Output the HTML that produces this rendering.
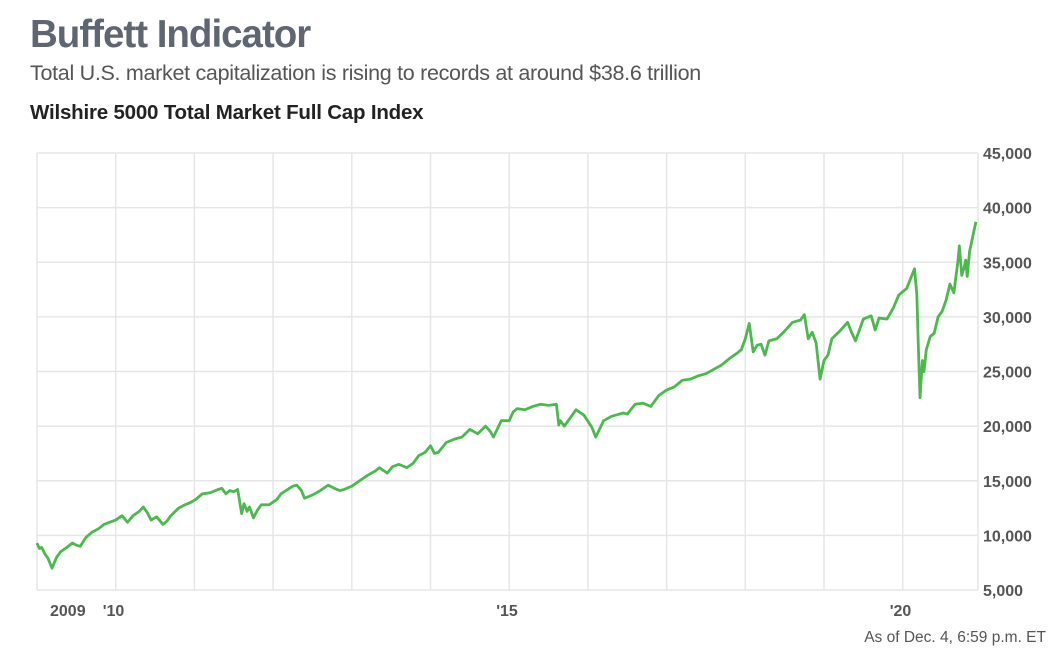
<!DOCTYPE html>
<html><head><meta charset="utf-8"><style>
body{margin:0;background:#fff;width:1055px;height:653px;overflow:hidden;font-family:"Liberation Sans",sans-serif}
.t{position:absolute;left:30px;top:13px;font-size:38.5px;font-weight:bold;color:#5f6672;letter-spacing:-1px}
.s{position:absolute;left:30px;top:61px;font-size:21.5px;color:#555;letter-spacing:-0.3px}
.h{position:absolute;left:30px;top:101px;font-size:20.5px;font-weight:bold;color:#222;letter-spacing:-0.2px}
svg{position:absolute;left:0;top:0}
</style></head><body>
<div class="t">Buffett Indicator</div>
<div class="s">Total U.S. market capitalization is rising to records at around $38.6 trillion</div>
<div class="h">Wilshire 5000 Total Market Full Cap Index</div>
<svg id="c" width="1055" height="653"></svg>
<script>
const dates=[2009.0,2009.03,2009.06,2009.1,2009.14,2009.19,2009.25,2009.3,2009.38,2009.45,2009.5,2009.55,2009.62,2009.7,2009.78,2009.85,2009.92,2010.0,2010.08,2010.15,2010.22,2010.3,2010.35,2010.4,2010.45,2010.52,2010.6,2010.65,2010.7,2010.8,2010.88,2010.95,2011.02,2011.1,2011.2,2011.3,2011.35,2011.4,2011.45,2011.5,2011.55,2011.6,2011.63,2011.67,2011.7,2011.75,2011.8,2011.85,2011.95,2012.05,2012.1,2012.25,2012.3,2012.36,2012.4,2012.5,2012.6,2012.7,2012.78,2012.85,2012.9,2013.0,2013.1,2013.2,2013.3,2013.35,2013.45,2013.52,2013.6,2013.7,2013.78,2013.85,2013.93,2014.0,2014.05,2014.1,2014.2,2014.3,2014.4,2014.5,2014.55,2014.6,2014.7,2014.76,2014.8,2014.9,2015.0,2015.05,2015.1,2015.2,2015.3,2015.4,2015.5,2015.6,2015.63,2015.65,2015.7,2015.75,2015.85,2015.95,2016.05,2016.1,2016.2,2016.3,2016.35,2016.45,2016.5,2016.6,2016.7,2016.8,2016.9,2017.0,2017.1,2017.2,2017.3,2017.4,2017.5,2017.6,2017.7,2017.8,2017.9,2017.95,2018.0,2018.05,2018.1,2018.15,2018.2,2018.25,2018.3,2018.4,2018.5,2018.6,2018.7,2018.75,2018.8,2018.85,2018.9,2018.95,2019.0,2019.05,2019.1,2019.2,2019.3,2019.35,2019.4,2019.5,2019.6,2019.65,2019.7,2019.8,2019.88,2019.95,2020.05,2020.1,2020.15,2020.18,2020.2,2020.22,2020.25,2020.27,2020.3,2020.35,2020.4,2020.45,2020.5,2020.55,2020.6,2020.65,2020.7,2020.72,2020.75,2020.78,2020.8,2020.82,2020.85,2020.88,2020.93];
const values=[9300,8800,8900,8300,7900,7000,8000,8500,8900,9300,9100,9000,9800,10300,10600,11000,11200,11400,11800,11200,11800,12200,12600,12100,11400,11700,11000,11300,11800,12500,12800,13000,13300,13800,13900,14200,14300,13800,14100,14000,14200,12000,12900,12200,12600,11600,12300,12800,12800,13300,13800,14500,14600,14100,13400,13700,14100,14600,14300,14100,14200,14500,15000,15500,15900,16200,15700,16300,16500,16200,16600,17300,17600,18200,17500,17600,18500,18800,19000,19700,19500,19300,20000,19500,19000,20500,20500,21300,21600,21500,21800,22000,21900,22000,20100,20500,20000,20500,21500,21000,19900,19000,20500,20900,21000,21200,21100,22000,22100,21800,22800,23300,23600,24200,24300,24600,24800,25200,25600,26200,26700,27000,28000,29400,26800,27400,27500,26500,27800,28000,28700,29500,29700,30200,28000,28600,27600,24300,26000,26500,28000,28700,29500,28600,27800,29800,30100,28800,29900,29800,30800,32000,32600,33500,34400,32000,27000,22600,26000,25000,27000,28200,28500,30000,30500,31500,33000,32200,35000,36500,33800,34500,35200,33700,36000,37000,38700];
const yTicks=[5000,10000,15000,20000,25000,30000,35000,40000,45000];
const xTickYears=[2009,2010,2015,2020];
const xTickLabels=["2009","'10","'15","'20"];
const NS="http://www.w3.org/2000/svg",svg=document.getElementById('c');
const X=d=>37+(d-2009)*78.7, Y=v=>590-(v-5000)*437/40000;
function mk(t,a){const e=document.createElementNS(NS,t);for(const k in a)e.setAttribute(k,a[k]);svg.appendChild(e);return e;}
for(let yr=2009;yr<=2020;yr++){const l=mk('line',{x1:X(yr),x2:X(yr),y1:153,y2:590,stroke:'#e6e6e6','stroke-width':1.5});

}
mk('line',{x1:978,x2:978,y1:153,y2:590,stroke:'#e6e6e6','stroke-width':1.5});
yTicks.forEach(v=>{const l=mk('line',{x1:37,x2:978,y1:Y(v),y2:Y(v),stroke:'#e6e6e6','stroke-width':1.5});


const t=mk('text',{x:983,y:Y(v)+6,'font-size':16,'font-weight':'bold',fill:'#555'});t.textContent=v.toLocaleString('en-US');

});
xTickYears.forEach((yr,i)=>{const t=mk('text',{x:i==0?50:X(yr)-13,y:616,'font-size':16,'font-weight':'bold',fill:'#555'});t.textContent=xTickLabels[i];

});
const p=mk('polyline',{points:dates.map((d,i)=>X(d)+','+Y(values[i])).join(' '),fill:'none',stroke:'#4cb84e','stroke-width':2.8,'stroke-linejoin':'round'});


const n=mk('text',{x:1046,y:642,'font-size':15.5,fill:'#555','text-anchor':'end'});n.textContent='As of Dec. 4, 6:59 p.m. ET';


</script>
</body></html>
